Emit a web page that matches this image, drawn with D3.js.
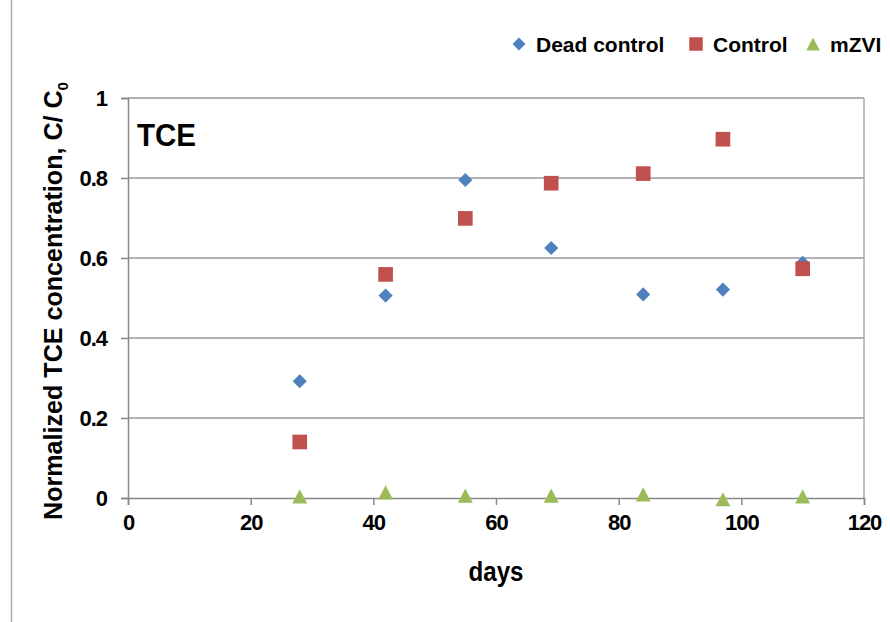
<!DOCTYPE html>
<html>
<head>
<meta charset="utf-8">
<script src="https://cdn.jsdelivr.net/npm/d3@7"></script>
<style>
  body { margin: 0; background: #fff; }
  text { font-family: "Liberation Sans", Arial, sans-serif; font-weight: bold; }
</style>
</head>
<body>
<script>
var days = [28, 42, 55, 69, 84, 97, 110];
var deadControl = [0.292, 0.506, 0.795, 0.625, 0.509, 0.521, 0.588];
var control = [0.14, 0.559, 0.699, 0.787, 0.811, 0.897, 0.573];
var mzvi = [0.004, 0.014, 0.006, 0.006, 0.009, -0.003, 0.004];
var xTicks = [0, 20, 40, 60, 80, 100, 120];
var yTicks = [0, 0.2, 0.4, 0.6, 0.8, 1];
var seriesNames = ["Dead control", "Control", "mZVI"];
var colors = ["#4F81BD", "#C0504D", "#9BBB59"];

var width = 890, height = 622;
var margin = {left: 128, right: 26, top: 98, bottom: 124};

var svg = d3.select("body").append("svg")
  .attr("width", width)
  .attr("height", height);

// outer chart border (only left edge visible)
svg.append("line")
  .attr("x1", 11.5).attr("x2", 11.5).attr("y1", 0).attr("y2", height)
  .style("stroke", "#aaa").style("stroke-width", 1.5);

var x = d3.scaleLinear().domain([0, 120]).range([margin.left, width - margin.right]);
var y = d3.scaleLinear().domain([0, 1]).range([height - margin.bottom, margin.top]);

// gridlines
svg.append("g").selectAll("line")
  .data(yTicks.slice(1))
  .enter().append("line")
  .attr("x1", x(0)).attr("x2", x(120))
  .attr("y1", function(d) { return y(d); })
  .attr("y2", function(d) { return y(d); })
  .style("stroke", "#999").style("stroke-width", 1.5);

// right border
svg.append("line")
  .attr("x1", x(120)).attr("x2", x(120)).attr("y1", y(1)).attr("y2", y(0))
  .style("stroke", "#aaa").style("stroke-width", 1.5);

var xAxis = d3.axisBottom(x).tickValues(xTicks).tickSize(7).tickPadding(9);
var yAxis = d3.axisLeft(y).tickValues(yTicks).tickSize(7).tickPadding(14)
  .tickFormat(function(d) { return d === 0 || d === 1 ? d : d3.format(".1f")(d); });

var gx = svg.append("g")
  .attr("transform", "translate(0," + y(0) + ")")
  .call(xAxis);
var gy = svg.append("g")
  .attr("transform", "translate(" + x(0) + ",0)")
  .call(yAxis);

[gx, gy].forEach(function(g) {
  g.selectAll("path, line").style("stroke", "#888").style("stroke-width", 1.5);
  g.selectAll("text").style("font-size", "22px").style("fill", "#000")
    .style("letter-spacing", "-1px");
});
gy.selectAll("text").attr("dy", "0.36em");

// axis titles
svg.append("text")
  .attr("x", (x(0) + x(120)) / 2)
  .attr("y", 581)
  .style("text-anchor", "middle")
  .style("font-size", "27px")
  .attr("textLength", 55)
  .attr("lengthAdjust", "spacingAndGlyphs")
  .text("days");

var yTitle = svg.append("text")
  .attr("transform", "translate(62,301) rotate(-90)")
  .style("text-anchor", "middle")
  .style("font-size", "25px")
  .attr("textLength", 438)
  .attr("lengthAdjust", "spacingAndGlyphs");
yTitle.append("tspan").text("Normalized TCE concentration, C/ C");
yTitle.append("tspan").attr("dy", 6).style("font-size", "15px").text("0");

// TCE label
svg.append("text")
  .attr("x", 137).attr("y", 146)
  .style("font-size", "31px")
  .attr("textLength", 59)
  .attr("lengthAdjust", "spacingAndGlyphs")
  .text("TCE");

// marker shapes as drawn by the spreadsheet
var diamond = {
  draw: function(ctx, size) {
    var r = Math.sqrt(size / 2);
    ctx.moveTo(0, -r); ctx.lineTo(r, 0); ctx.lineTo(0, r); ctx.lineTo(-r, 0); ctx.closePath();
  }
};
var triangle = {
  draw: function(ctx, size) {
    var w = Math.sqrt(size), h = w * 0.95;
    ctx.moveTo(0, -h / 2); ctx.lineTo(w / 2, h / 2); ctx.lineTo(-w / 2, h / 2); ctx.closePath();
  }
};

var allSeries = [deadControl, control, mzvi];
var symbols = [diamond, d3.symbolSquare, triangle];
var sizes = [100, 215, 220];

allSeries.forEach(function(vals, s) {
  svg.append("g").selectAll("path")
    .data(vals)
    .enter().append("path")
    .attr("d", d3.symbol().type(symbols[s]).size(sizes[s]))
    .attr("transform", function(d, i) {
      return "translate(" + x(days[i]) + "," + y(d) + ")";
    })
    .style("fill", colors[s]);
});

// legend
var legendX = [519, 696, 813];
var legend = svg.selectAll(".legend")
  .data(seriesNames)
  .enter().append("g")
  .attr("class", "legend")
  .attr("transform", function(d, i) { return "translate(" + legendX[i] + ",44)"; });

legend.append("path")
  .attr("d", function(d, i) { return d3.symbol().type(symbols[i]).size(sizes[i] * 0.85)(); })
  .style("fill", function(d, i) { return colors[i]; });

legend.append("text")
  .attr("x", 17)
  .attr("dy", "0.36em")
  .style("font-size", "21px")
  .style("letter-spacing", "0px")
  .text(function(d) { return d; });
</script>
</body>
</html>
